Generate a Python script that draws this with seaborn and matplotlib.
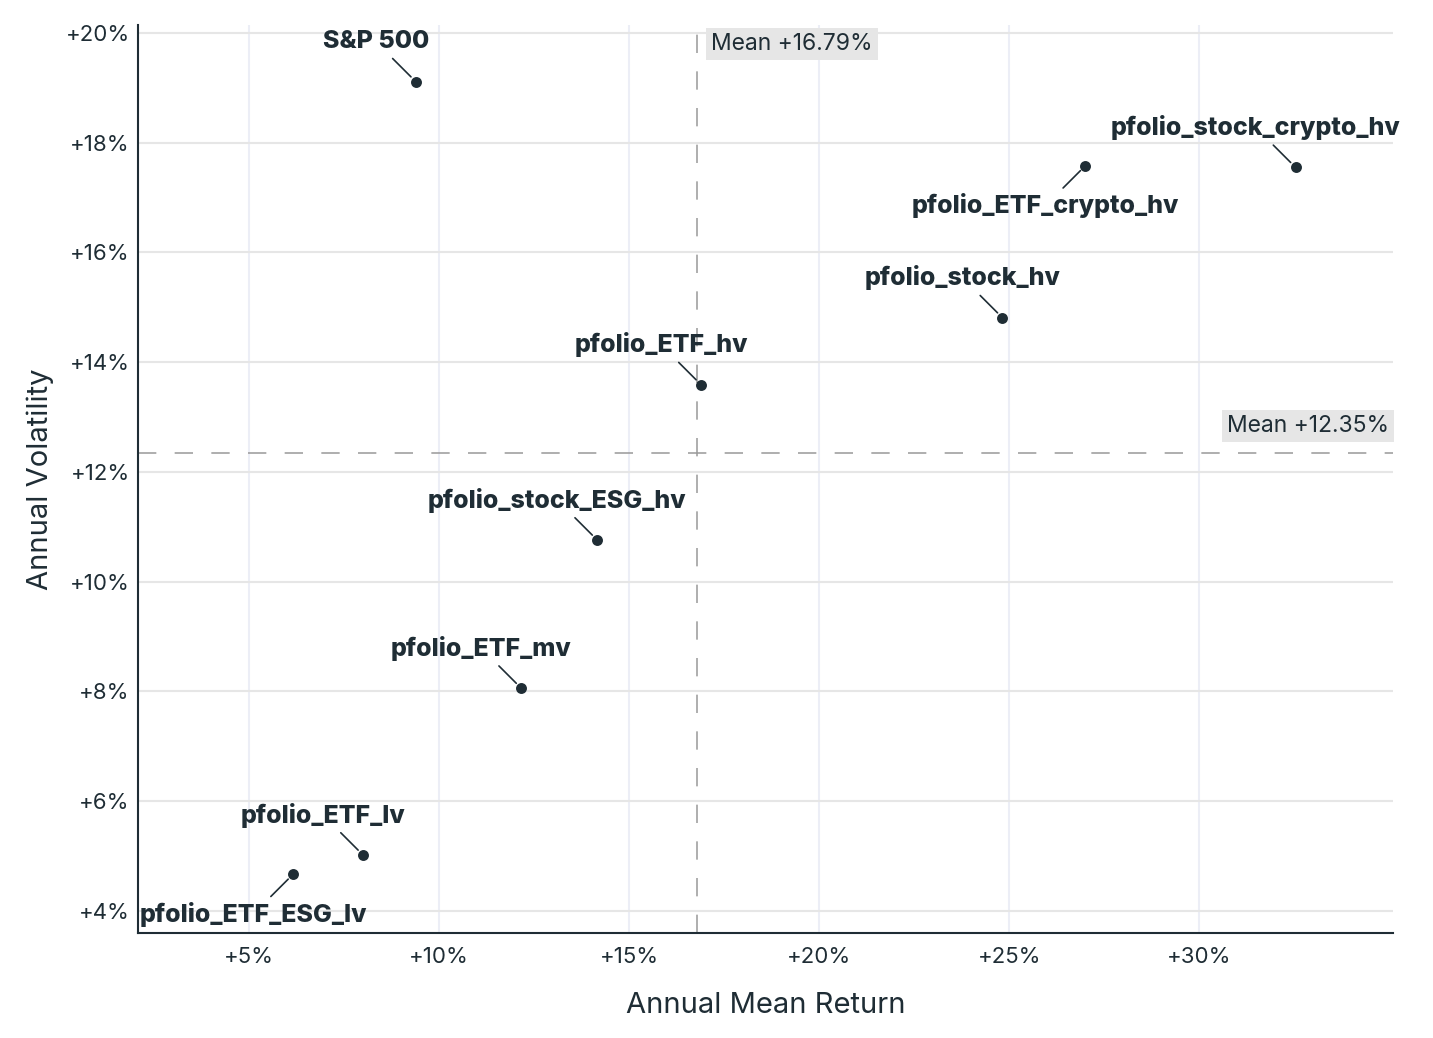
import seaborn as sns
import matplotlib.pyplot as plt
import pandas as pd
from matplotlib.ticker import FuncFormatter

# portfolio stats (percent)
names = ["S&P 500", "pfolio_stock_crypto_hv", "pfolio_ETF_crypto_hv", "pfolio_stock_hv",
         "pfolio_ETF_hv", "pfolio_stock_ESG_hv", "pfolio_ETF_mv", "pfolio_ETF_lv",
         "pfolio_ETF_ESG_lv"]
mean_return = [9.39, 32.53, 27.0, 24.82, 16.89, 14.16, 12.16, 8.0, 6.16]
volatility = [19.11, 17.55, 17.58, 14.81, 13.59, 10.76, 8.06, 5.02, 4.67]
label_dir = [-1, -1, 1, -1, -1, -1, -1, -1, 1]  # -1 label above, 1 label below
x_ticks = [5, 10, 15, 20, 25, 30]
y_ticks = [4, 6, 8, 10, 12, 14, 16, 18, 20]

df = pd.DataFrame({"name": names, "ret": mean_return, "vol": volatility, "dir": label_dir})
mean_x = df["ret"].mean()
mean_y = df["vol"].mean()

dark = "#1f2d35"

sns.set_theme(style="white")
plt.rcParams["font.family"] = ["Inter", "DejaVu Sans"]

fig, ax = plt.subplots(figsize=(14.33, 10.38), dpi=100)
fig.subplots_adjust(left=0.0963, right=0.972, bottom=0.1012, top=0.976)

ax.set_axisbelow(True)
ax.grid(axis="y", color="#e6e6e6", lw=1.5)
ax.grid(axis="x", color="#eceef6", lw=1.5)

ax.axvline(mean_x, color="#999999", lw=1.1, ls=(0, (12, 12)), zorder=2)
ax.axhline(mean_y, color="#999999", lw=1.1, ls=(0, (12, 12)), zorder=2)

sns.scatterplot(data=df, x="ret", y="vol", color=dark, s=62, edgecolor=dark,
                linewidth=0, zorder=3, ax=ax)

for _, r in df.iterrows():
    ax.annotate(r["name"], xy=(r["ret"], r["vol"]), xytext=(-40, -40 * r["dir"]),
                textcoords="offset pixels", ha="center", va="center",
                fontsize=18, fontweight="heavy", color=dark,
                arrowprops=dict(arrowstyle="-", color=dark, lw=1.2, shrinkA=2, shrinkB=5),
                zorder=4)

ax.set_xlim(2.08, 35.09)
ax.set_ylim(3.6, 20.146)

ax.annotate(f"Mean +{mean_x:.2f}%", xy=(mean_x, 1), xycoords=("data", "axes fraction"),
            xytext=(14, -8), textcoords="offset pixels", ha="left", va="top",
            fontsize=16.5, color=dark,
            bbox=dict(boxstyle="square,pad=0.22", fc="#e6e6e6", ec="none"), zorder=5)
ax.annotate(f"Mean +{mean_y:.2f}%", xy=(1, mean_y), xycoords=("axes fraction", "data"),
            xytext=(-4, 16), textcoords="offset pixels", ha="right", va="bottom",
            fontsize=16.5, color=dark,
            bbox=dict(boxstyle="square,pad=0.22", fc="#e6e6e6", ec="none"), zorder=5)

ax.set_xticks(x_ticks)
ax.set_yticks(y_ticks)
ax.xaxis.set_major_formatter(FuncFormatter(lambda v, p: f"+{v:.0f}%"))
ax.yaxis.set_major_formatter(FuncFormatter(lambda v, p: f"+{v:.0f}%"))
ax.tick_params(axis="both", length=0, labelsize=16, labelcolor=dark)
ax.tick_params(axis="x", pad=10)
ax.tick_params(axis="y", pad=6)

for side in ["top", "right"]:
    ax.spines[side].set_visible(False)
for side in ["left", "bottom"]:
    ax.spines[side].set_color(dark)
    ax.spines[side].set_linewidth(1.5)

ax.set_xlabel("Annual Mean Return", fontsize=21, color=dark, labelpad=18)
ax.set_ylabel("Annual Volatility", fontsize=21, color=dark, labelpad=8)

plt.savefig("out.png", dpi=100)
